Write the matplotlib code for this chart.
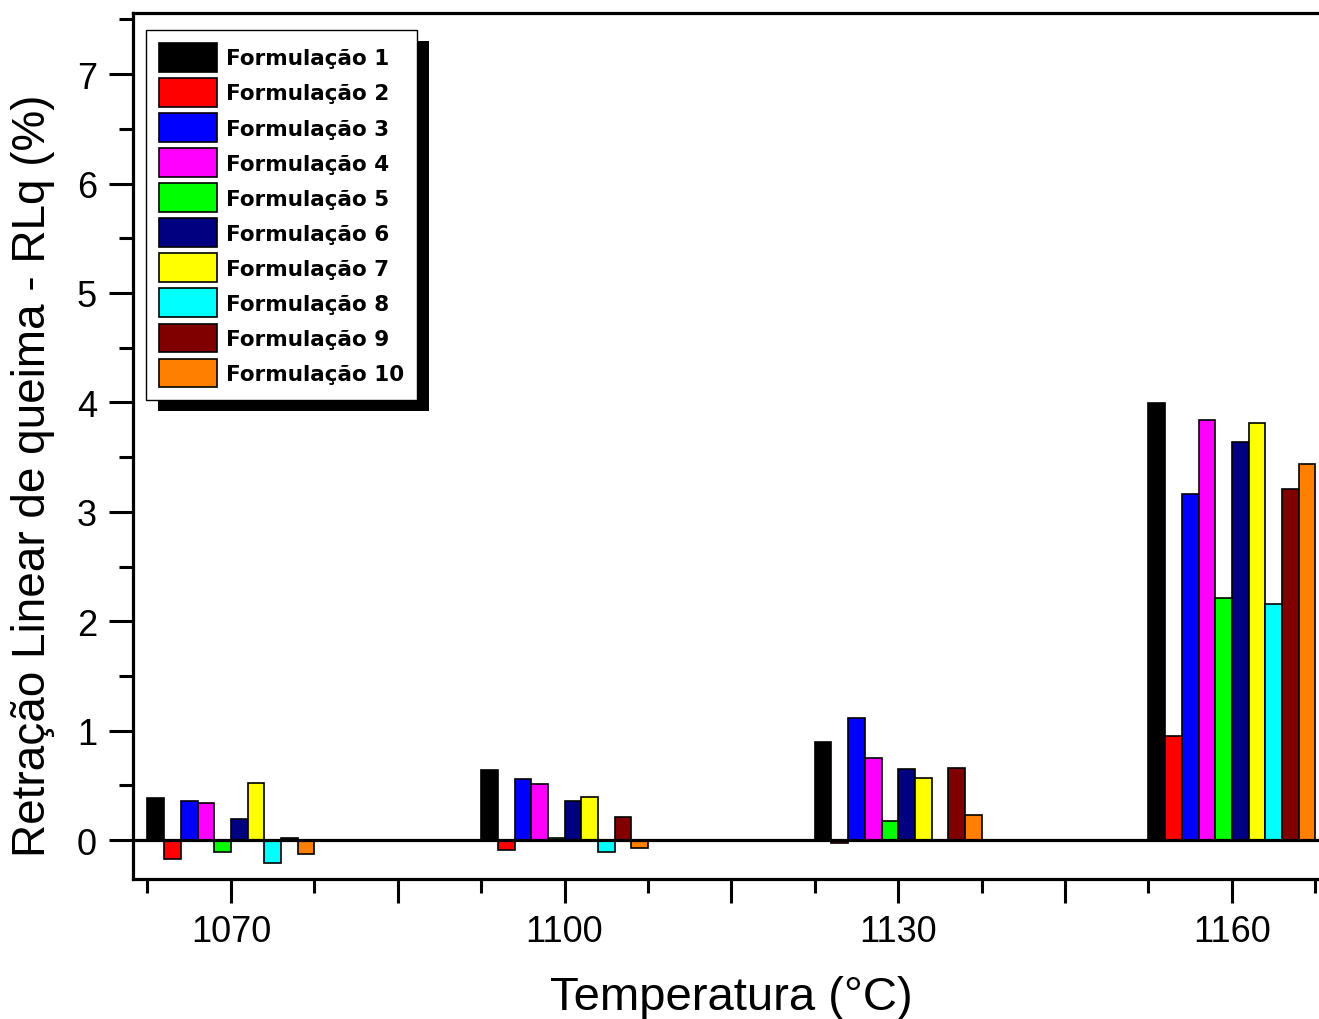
import numpy as np
import matplotlib
matplotlib.use('Agg')
import matplotlib.pyplot as plt
import matplotlib.ticker as ticker
import matplotlib.patheffects as pe

# Retração linear de queima (%) por formulação e temperatura
temperaturas = [1070, 1100, 1130, 1160]
formulacoes = ['Formulação %d' % i for i in range(1, 11)]
cores = ['#000000', '#FF0000', '#0000FF', '#FF00FF', '#00FF00',
         '#000080', '#FFFF00', '#00FFFF', '#800000', '#FF8000']

f1 = [0.38, 0.64, 0.90, 3.99]
f2 = [-0.17, -0.09, -0.03, 0.95]
f3 = [0.36, 0.56, 1.12, 3.16]
f4 = [0.34, 0.51, 0.75, 3.84]
f5 = [-0.11, 0.02, 0.17, 2.21]
f6 = [0.19, 0.36, 0.65, 3.64]
f7 = [0.52, 0.39, 0.57, 3.81]
f8 = [-0.21, -0.11, 0.0, 2.16]
f9 = [0.02, 0.21, 0.66, 3.21]
f10 = [-0.13, -0.07, 0.23, 3.44]
series = [f1, f2, f3, f4, f5, f6, f7, f8, f9, f10]

plt.rcParams['font.family'] = ['Liberation Sans', 'DejaVu Sans']

fig = plt.figure(figsize=(13.19, 10.20), dpi=100)
ax = fig.add_axes([133 / 1319, 1 - 880 / 1020, 1189 / 1319, 866 / 1020])

largura = 1.5
x = np.array(temperaturas, dtype=float)
for i, (vals, cor, nome) in enumerate(zip(series, cores, formulacoes)):
    ax.bar(x + (i - 4.5) * largura, vals, width=largura, color=cor,
           edgecolor='black', linewidth=1.2, label=nome, zorder=2)

ax.axhline(0, color='black', linewidth=2.3, zorder=3)

ax.set_xlim(1061.2, 1168.1)
ax.set_ylim(-0.356, 7.559)

# eixo x: marcas a cada 15 °C, rótulos só a cada 30 °C
ax.xaxis.set_major_locator(ticker.MultipleLocator(15, offset=5))
ax.xaxis.set_minor_locator(ticker.MultipleLocator(7.5, offset=5))
ax.xaxis.set_major_formatter(ticker.FuncFormatter(
    lambda v, p: '%d' % round(v) if round(v - 1070) % 30 == 0 else ''))
ax.yaxis.set_major_locator(ticker.MultipleLocator(1))
ax.yaxis.set_minor_locator(ticker.MultipleLocator(0.5))

ax.tick_params(which='major', direction='out', length=17, width=2.2,
               labelsize=26, pad=9)
ax.tick_params(which='minor', direction='out', length=10, width=2.2)
ax.tick_params(axis='x', which='major', pad=8)

for lado in ['left', 'bottom', 'top']:
    ax.spines[lado].set_linewidth(2.3)
ax.spines['right'].set_visible(False)

xl = ax.set_xlabel('Temperatura (°C)', fontsize=34)
xl.set_verticalalignment('center')
ax.xaxis.set_label_coords(0.503, -0.136)
yl = ax.set_ylabel('Retração Linear de queima - RLq (%)', fontsize=33)
yl.set_verticalalignment('center')
ax.yaxis.set_label_coords(-0.084, 0.4665)

leg = ax.legend(loc='upper left', bbox_to_anchor=(0.0109, 0.980),
                borderaxespad=0, fancybox=False, framealpha=1,
                edgecolor='black',
                prop={'family': 'DejaVu Sans', 'weight': 'bold', 'size': 15.5},
                handlelength=2.7, handleheight=1.65, labelspacing=0.31,
                handletextpad=0.42, borderpad=0.6)
leg.get_frame().set_linewidth(1.0)
leg.get_frame().set_path_effects([
    pe.SimplePatchShadow(offset=(8.6, -7.9), shadow_rgbFace='black', alpha=1),
    pe.Normal()])

fig.savefig('out.png', dpi=100)
